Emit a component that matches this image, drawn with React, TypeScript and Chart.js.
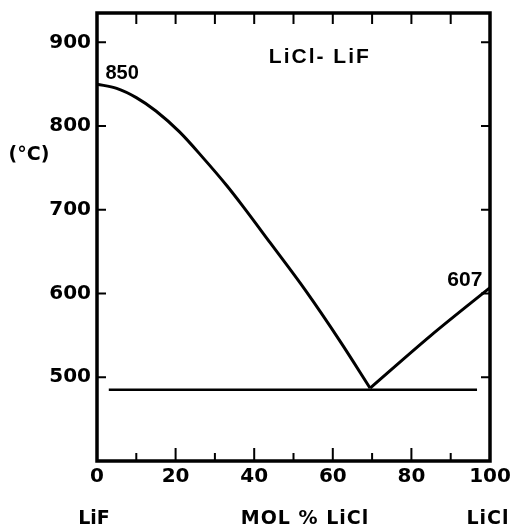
import React, { useEffect, useRef } from "react";
import { Chart, registerables } from "chart.js";

Chart.register(...registerables);

const X_MIN = 0;
const X_MAX = 100;
const Y_MIN = 400;
const Y_MAX = 935;

const xTickLabels = [0, 20, 40, 60, 80, 100];
const xMinorTicks = [10, 20, 30, 40, 50, 60, 70, 80, 90];
const yTickLabels = [500, 600, 700, 800, 900];

const leftLiquidusX = [0, 5, 10, 15, 21, 27, 33, 37, 44, 53, 62, 69.5];
const leftLiquidusT = [850, 845, 834, 818, 793, 762, 729, 705, 661, 604, 542, 487];
const rightLiquidusX = [69.5, 85, 100];
const rightLiquidusT = [487, 550, 607];
const eutecticX = [3, 96.7];
const eutecticT = [485, 485];

const toPts = (xs: number[], ys: number[]) => xs.map((x, i) => ({ x, y: ys[i] }));

const LABEL_FONT = "bold 19px 'DejaVu Sans'";

const framePlugin = {
  id: "frame",
  afterDatasetsDraw(chart: any) {
    const { ctx, chartArea } = chart;
    const xs = chart.scales.x;
    const ys = chart.scales.y;
    const { left, right, top, bottom } = chartArea;
    ctx.save();
    ctx.strokeStyle = "#000";
    ctx.lineWidth = 3.5;
    ctx.lineCap = "square";
    ctx.strokeRect(left, top, right - left, bottom - top);
    ctx.lineWidth = 2;
    ctx.lineCap = "butt";
    ctx.beginPath();
    xMinorTicks.forEach((v) => {
      const px = xs.getPixelForValue(v);
      const len = v % 20 === 0 ? 13 : 8;
      ctx.moveTo(px, bottom);
      ctx.lineTo(px, bottom - len);
      ctx.moveTo(px, top);
      ctx.lineTo(px, top + 11);
    });
    yTickLabels.forEach((v) => {
      const py = ys.getPixelForValue(v);
      ctx.moveTo(left, py);
      ctx.lineTo(left + 9, py);
      ctx.moveTo(right, py);
      ctx.lineTo(right - 9, py);
    });
    ctx.stroke();

    ctx.fillStyle = "#000";
    ctx.textAlign = "center";
    ctx.textBaseline = "middle";
    // in-plot annotations
    ctx.font = "bold 21px 'Liberation Sans'";
    (ctx as any).letterSpacing = "2px";
    ctx.fillText("LiCl- LiF", xs.getPixelForValue(56.7), ys.getPixelForValue(882));
    (ctx as any).letterSpacing = "0px";
    ctx.font = "bold 20px 'Liberation Sans'";
    ctx.fillText("850", xs.getPixelForValue(6.4), ys.getPixelForValue(863));
    ctx.font = "bold 21px 'Liberation Sans'";
    ctx.fillText("607", xs.getPixelForValue(93.6), ys.getPixelForValue(616));
    // outside annotations
    ctx.font = LABEL_FONT;
    ctx.fillText("(°C)", 29, 155);
    ctx.fillText("LiF", 94, 519);
    (ctx as any).letterSpacing = "1px";
    ctx.fillText("MOL % LiCl", 305, 519);
    ctx.fillText("LiCl", 488, 519);
    (ctx as any).letterSpacing = "0px";
    ctx.restore();
  },
};

export default function App() {
  const ref = useRef<HTMLCanvasElement>(null);
  useEffect(() => {
    if (!ref.current) return;
    const chart = new Chart(ref.current, {
      type: "scatter",
      data: {
        datasets: [
          {
            data: toPts(leftLiquidusX, leftLiquidusT),
            showLine: true,
            borderColor: "#000",
            borderWidth: 3,
            pointRadius: 0,
            cubicInterpolationMode: "monotone",
          },
          {
            data: toPts(rightLiquidusX, rightLiquidusT),
            showLine: true,
            borderColor: "#000",
            borderWidth: 3,
            pointRadius: 0,
            cubicInterpolationMode: "monotone",
          },
          {
            data: toPts(eutecticX, eutecticT),
            showLine: true,
            borderColor: "#000",
            borderWidth: 2.5,
            pointRadius: 0,
          },
        ],
      },
      options: {
        animation: false,
        responsive: false,
        devicePixelRatio: 1,
        layout: { padding: { top: 13, right: 21, left: 0, bottom: 0 } },
        plugins: { legend: { display: false }, tooltip: { enabled: false }, title: { display: false } },
        scales: {
          x: {
            type: "linear",
            min: X_MIN,
            max: X_MAX,
            afterBuildTicks: (s: any) => {
              s.ticks = xTickLabels.map((v) => ({ value: v }));
            },
            afterFit: (s: any) => {
              s.height = 70;
              s.paddingLeft = 0;
              s.paddingRight = 0;
            },
            grid: { display: false, drawTicks: false },
            border: { display: false },
            ticks: {
              color: "#000",
              font: { family: "'DejaVu Sans'", size: 20, weight: "bold" },
              padding: 4,
              maxRotation: 0,
              autoSkip: false,
            },
          },
          y: {
            type: "linear",
            min: Y_MIN,
            max: Y_MAX,
            afterBuildTicks: (s: any) => {
              s.ticks = yTickLabels.map((v) => ({ value: v }));
            },
            afterFit: (s: any) => {
              s.width = 97;
              s.paddingTop = 0;
              s.paddingBottom = 0;
            },
            grid: { display: false, drawTicks: false },
            border: { display: false },
            ticks: {
              color: "#000",
              font: { family: "'DejaVu Sans'", size: 20, weight: "bold" },
              padding: 6,
            },
          },
        },
      },
      plugins: [framePlugin],
    } as any);
    return () => chart.destroy();
  }, []);
  return (
    <div style={{ position: "absolute", left: 0, top: 0, width: 511, height: 531, background: "#fff" }}>
      <canvas ref={ref} width={511} height={531} style={{ display: "block" }} />
    </div>
  );
}
